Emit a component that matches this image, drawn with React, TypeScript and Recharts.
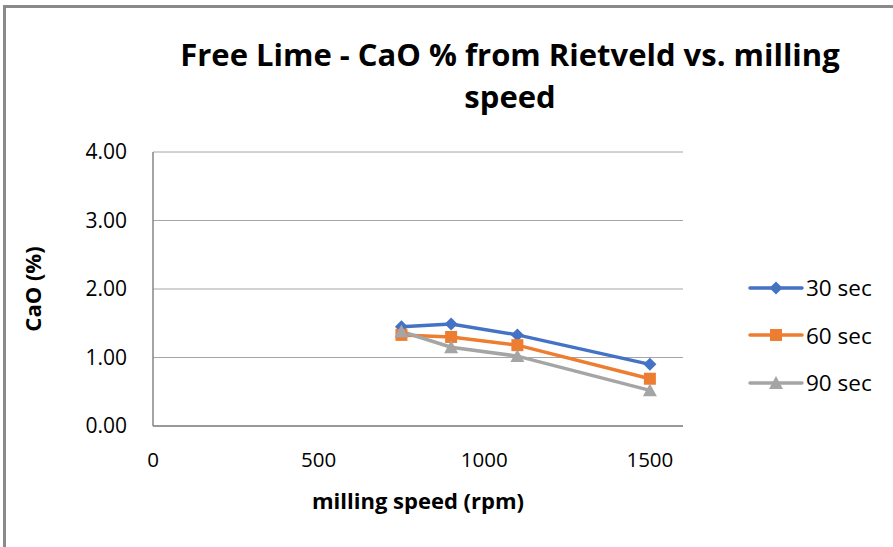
import { LineChart, Line, XAxis, YAxis, CartesianGrid, Label } from "recharts"

const speeds = [750, 900, 1100, 1500]
const sec30 = [1.45, 1.49, 1.33, 0.9]
const sec60 = [1.33, 1.3, 1.18, 0.69]
const sec90 = [1.38, 1.15, 1.02, 0.52]
const xTicks = [0, 500, 1000, 1500]
const yTicks = [0, 1, 2, 3, 4]

const data = speeds.map((s, i) => ({ speed: s, s30: sec30[i], s60: sec60[i], s90: sec90[i] }))

const series = [
  { key: "s30", name: "30 sec", color: "#4472C4", shape: "diamond" },
  { key: "s60", name: "60 sec", color: "#ED7D31", shape: "square" },
  { key: "s90", name: "90 sec", color: "#A5A5A5", shape: "triangle" },
]

const FONT = "'Open Sans', 'Noto Sans', sans-serif"

function Marker({ cx, cy, shape, color }: any) {
  if (cx == null || cy == null) return null
  if (shape === "diamond") {
    const r = 6.5
    return <path d={`M${cx},${cy - r}L${cx + r},${cy}L${cx},${cy + r}L${cx - r},${cy}Z`} fill={color} />
  }
  if (shape === "square") {
    const r = 6
    return <rect x={cx - r} y={cy - r} width={r * 2} height={r * 2} fill={color} />
  }
  const r = 7
  return <path d={`M${cx},${cy - r}L${cx + r},${cy + r * 0.85}L${cx - r},${cy + r * 0.85}Z`} fill={color} />
}

function LegendBox() {
  return (
    <div style={{ position: "absolute", left: 748, top: 264, fontFamily: FONT }}>
      {series.map((s) => (
        <div key={s.key} style={{ display: "flex", alignItems: "center", height: 47.5 }}>
          <svg width={56} height={20}>
            <line x1={2} y1={10} x2={54} y2={10} stroke={s.color} strokeWidth={3.5} strokeLinecap="round" />
            <Marker cx={28} cy={10} shape={s.shape} color={s.color} />
          </svg>
          <span style={{ fontSize: 22.5, color: "#000", marginLeft: 2 }}>{s.name}</span>
        </div>
      ))}
    </div>
  )
}

export default function App() {
  return (
    <div style={{ position: "absolute", left: 0, top: 0, width: 893, height: 547, background: "#fff", overflow: "hidden" }}>
      <div
        style={{
          position: "absolute",
          left: 3,
          top: 5,
          right: 0,
          bottom: 0,
          borderTop: "3px solid #8a8a8a",
          borderLeft: "3px solid #8a8a8a",
        }}
      />
      <div
        style={{
          position: "absolute",
          left: 110,
          top: 33,
          width: 800,
          textAlign: "center",
          fontFamily: FONT,
          fontWeight: 700,
          fontSize: 31,
          lineHeight: "42px",
          color: "#000",
        }}
      >
        Free Lime - CaO % from Rietveld vs. milling
        <br />
        speed
      </div>
      <div style={{ position: "absolute", left: 0, top: 0 }}>
        <LineChart width={893} height={547} data={data} margin={{ top: 152, right: 210, bottom: 61, left: 53 }}>
          <CartesianGrid vertical={false} stroke="#a6a6a6" strokeWidth={1} />
          <XAxis
            type="number"
            dataKey="speed"
            domain={[0, 1600]}
            ticks={xTicks}
            height={60}
            tickLine={false}
            tickMargin={20}
            stroke="#868686"
            strokeWidth={1.5}
            tick={{ fill: "#000", fontSize: 20.5, fontFamily: FONT }}
          >
            <Label
              content={({ viewBox }: any) => (
                <text
                  x={viewBox.x + viewBox.width / 2}
                  y={viewBox.y + 77}
                  textAnchor="middle"
                  dominantBaseline="middle"
                  fontFamily={FONT}
                  fontWeight={700}
                  fontSize={22}
                  fill="#000"
                >
                  milling speed (rpm)
                </text>
              )}
            />
          </XAxis>
          <YAxis
            type="number"
            domain={[0, 4]}
            ticks={yTicks}
            width={100}
            tickLine={false}
            tickMargin={20}
            stroke="#868686"
            strokeWidth={1.5}
            tickFormatter={(v: number) => v.toFixed(2)}
            tick={{ fill: "#000", fontSize: 21, fontFamily: FONT }}
          >
            <Label
              content={({ viewBox }: any) => {
                const x = viewBox.x - 18
                const y = viewBox.y + viewBox.height / 2
                return (
                  <text
                    x={x}
                    y={y}
                    transform={`rotate(-90 ${x} ${y})`}
                    textAnchor="middle"
                    dominantBaseline="middle"
                    fontFamily={FONT}
                    fontWeight={700}
                    fontSize={22}
                    fill="#000"
                  >
                    CaO (%)
                  </text>
                )
              }}
            />
          </YAxis>
          {series.map((s) => (
            <Line
              key={s.key}
              dataKey={s.key}
              name={s.name}
              stroke={s.color}
              strokeWidth={3.5}
              isAnimationActive={false}
              dot={(p: any) => <Marker key={`${s.key}-${p.index}`} cx={p.cx} cy={p.cy} shape={s.shape} color={s.color} />}
              activeDot={false}
            />
          ))}
        </LineChart>
      </div>
      <LegendBox />
    </div>
  )
}
